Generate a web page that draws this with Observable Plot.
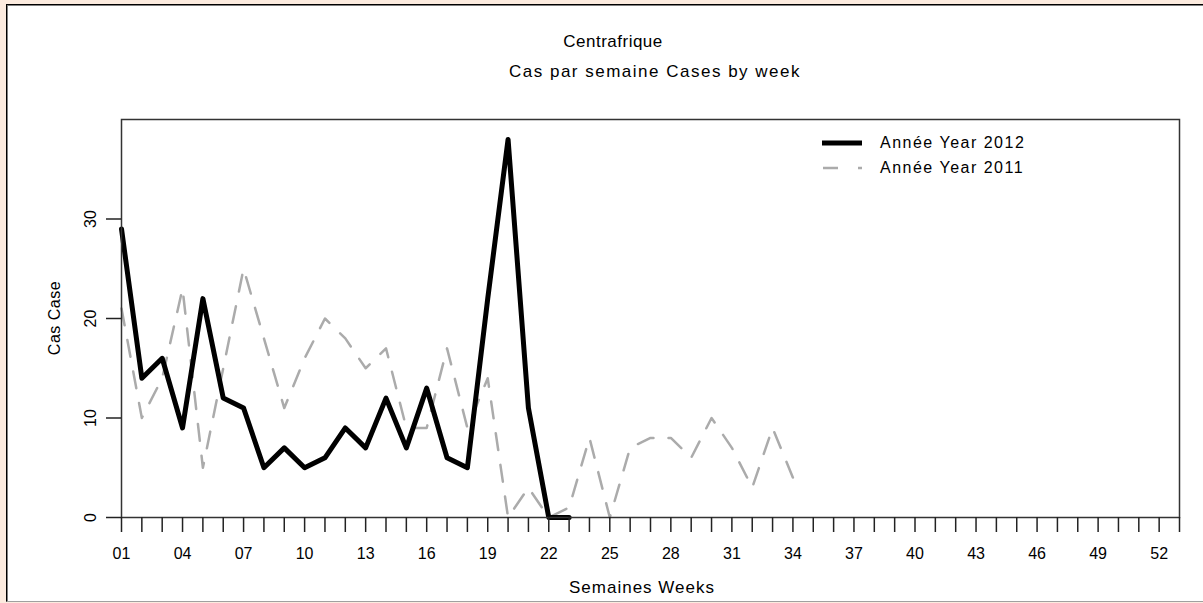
<!DOCTYPE html>
<html>
<head>
<meta charset="utf-8">
<script src="https://cdn.jsdelivr.net/npm/d3@7"></script>
<script src="https://cdn.jsdelivr.net/npm/@observablehq/plot@0.6"></script>
<style>
  html, body { margin: 0; padding: 0; }
  body { width: 1203px; height: 603px; overflow: hidden; background: #fcebdf; position: relative;
         font-family: "Liberation Sans", Arial, sans-serif; color: #000; }
  #frame { position: absolute; left: 6px; top: 4px; width: 1200px; height: 596px; background: #fff;
           border-left: 1px solid #000; border-top: 1px solid #000; border-bottom: 1px solid #a0a0a0;
           box-shadow: inset 1px 1px 0 #808080; }
  #chart { position: absolute; left: 0; top: 0; }
  .t { position: absolute; white-space: nowrap; }
  .title { font-size: 17px; transform: translate(-50%, -50%); letter-spacing: 0.5px; }
  .sub { font-size: 17px; transform: translate(-50%, -50%); letter-spacing: 1.5px; }
  .leg { position: absolute; font-size: 16px; white-space: nowrap; transform: translateY(-50%); letter-spacing: 1.5px; }
  .ylab { font-size: 16px; transform: translate(-50%, -50%) rotate(-90deg); letter-spacing: 0.5px; }
  .xlab { font-size: 17px; transform: translate(-50%, -50%); letter-spacing: 1px; }
</style>
</head>
<body>
<div id="frame"></div>
<div id="chart"></div>
<div class="t title" style="left:613px; top:42px;">Centrafrique</div>
<div class="t sub" style="left:655px; top:72px;">Cas par semaine Cases by week</div>
<div class="t xlab" style="left:642px; top:588px;">Semaines Weeks</div>
<div class="t ylab" style="left:55px; top:318px;">Cas Case</div>
<svg style="position:absolute; left:0; top:0;" width="1203" height="603" id="legsvg">
  <line x1="822" y1="143" x2="862" y2="143" stroke="#000" stroke-width="5"/>
  <line x1="823" y1="168" x2="862" y2="168" stroke="#ababab" stroke-width="2.5" stroke-dasharray="15,20"/>
</svg>
<div class="leg" style="left:880px; top:143px;">Année Year 2012</div>
<div class="leg" style="left:880px; top:168px;">Année Year 2011</div>
<script>
// ---- data ----
const weeks2012 = [1,2,3,4,5,6,7,8,9,10,11,12,13,14,15,16,17,18,19,20,21,22,23];
const cases2012 = [29,14,16,9,22,12,11,5,7,5,6,9,7,12,7,13,6,5,22,38,11,0,0];
const weeks2011 = [1,2,3,4,5,6,7,8,9,10,11,12,13,14,15,16,17,18,19,20,21,22,23,24,25,26,27,28,29,30,31,32,33,34];
const cases2011 = [21,10,14,23,5,15,25,18,11,16,20,18,15,17,9,9,17,9,14,0,3,0,1,8,0,7,8,8,6,10,7,3,9,4];
const xTickWeeks = [1,2,3,4,5,6,7,8,9,10,11,12,13,14,15,16,17,18,19,20,21,22,23,24,25,26,27,28,29,30,31,32,33,34,35,36,37,38,39,40,41,42,43,44,45,46,47,48,49,50,51,52,53];
const xLabelWeeks = [1,4,7,10,13,16,19,22,25,28,31,34,37,40,43,46,49,52];
const xTickLabels = ["01","04","07","10","13","16","19","22","25","28","31","34","37","40","43","46","49","52"];
const yTicks = [0,10,20,30];
const yTickLabels = ["0","10","20","30"];

const d2012 = weeks2012.map((w, i) => ({week: w, cases: cases2012[i]}));
const d2011 = weeks2011.map((w, i) => ({week: w, cases: cases2011[i]}));
const xLab = xLabelWeeks.map((w, i) => ({week: w, label: xTickLabels[i]}));
const yLab = yTicks.map((v, i) => ({v, label: yTickLabels[i]}));

const chart = Plot.plot({
  width: 1203,
  height: 603,
  marginLeft: 121,
  marginRight: 24,
  marginTop: 119,
  marginBottom: 86,
  style: {background: "transparent", fontFamily: "Liberation Sans, Arial, sans-serif", overflow: "visible"},
  x: {domain: [1, 53]},
  y: {domain: [0, 40]},
  marks: [
    Plot.line(d2011, {x: "week", y: "cases", stroke: "#ababab", strokeWidth: 2.5, strokeDasharray: "17,15"}),
    Plot.line(d2012, {x: "week", y: "cases", stroke: "#000", strokeWidth: 5}),
    Plot.frame({stroke: "#333", strokeWidth: 1.5}),
    Plot.axisX({ticks: xTickWeeks, tickSize: 15, tickFormat: () => "", label: null, stroke: "#222", strokeWidth: 1.5}),
    Plot.axisY({ticks: yTicks, tickSize: 15, tickFormat: () => "", label: null, stroke: "#222", strokeWidth: 1.5}),
    Plot.text(xLab, {x: "week", text: "label", frameAnchor: "bottom", dy: 36, fontSize: 16, lineAnchor: "middle", fill: "#000"}),
    Plot.text(yLab, {y: "v", text: "label", frameAnchor: "left", dx: -31, rotate: -90, fontSize: 16, lineAnchor: "middle", textAnchor: "middle", fill: "#000"})
  ]
});
document.getElementById("chart").appendChild(chart);
</script>
</body>
</html>
